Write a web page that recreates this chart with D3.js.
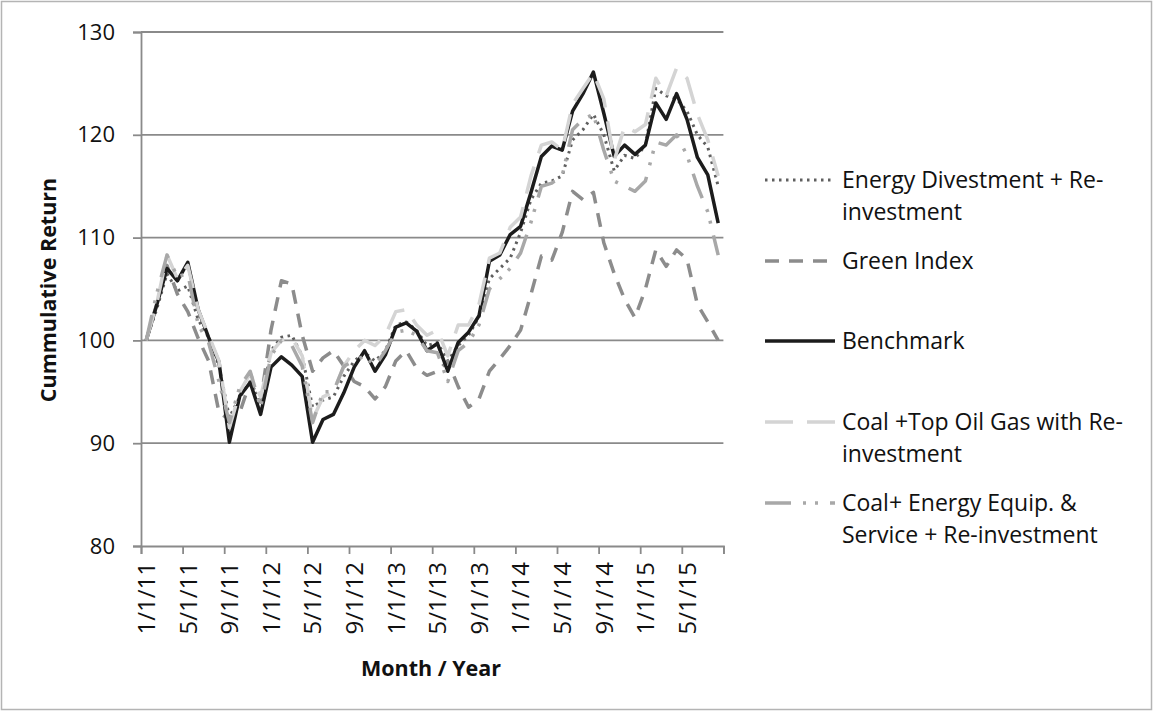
<!DOCTYPE html>
<html><head><meta charset="utf-8">
<script src="https://cdn.jsdelivr.net/npm/d3@7/dist/d3.min.js"></script>
<style>
html,body{margin:0;padding:0;background:#fff;}
svg{display:block;font-family:"Open Sans",sans-serif;}
</style></head><body>
<svg id="c" width="1153" height="711"></svg>
<script>
// ---- data (monthly, Jan 2011 .. Aug 2015) ----
const tickLabels = ["1/1/11","5/1/11","9/1/11","1/1/12","5/1/12","9/1/12","1/1/13","5/1/13","9/1/13","1/1/14","5/1/14","9/1/14","1/1/15","5/1/15"];
const energyDivestment = [100.0,103.0,106.5,104.8,105.3,102.0,100.3,97.5,92.5,94.5, 96.0,93.8,99.0,100.3,100.5,98.5,93.5,94.2,94.5,96.5, 98.0,98.8,98.0,99.0,101.5,101.8,101.0,99.5,99.8,98.0, 99.5,100.5,102.3,106.0,107.0,108.0,110.5,113.7,115.3,115.5, 116.0,119.5,120.5,122.0,120.0,116.5,118.0,117.7,119.0,124.5, 123.8,123.5,122.3,120.0,118.8,115.0];
const greenIndex = [100.0,103.5,107.3,104.5,102.8,100.2,98.0,93.0,92.3,93.0, 96.0,94.0,101.0,105.8,105.5,100.5,97.0,98.3,99.0,97.5, 96.0,95.5,94.3,95.5,98.0,99.0,97.3,96.6,97.0,98.0, 95.5,93.5,94.3,97.0,98.2,99.5,101.0,104.5,108.2,107.8, 110.5,114.5,113.7,114.4,109.5,106.5,104.0,102.2,105.0,108.8, 107.2,108.8,107.9,103.5,101.8,100.0];
const benchmark = [100.0,103.4,107.0,105.8,107.6,103.0,100.3,97.9,90.1,94.6, 95.9,92.8,97.4,98.4,97.6,96.5,90.1,92.3,92.8,94.9, 97.4,99.0,97.0,98.6,101.3,101.7,100.9,99.0,99.7,97.0, 99.8,100.8,102.4,107.7,108.3,110.3,111.1,114.4,117.9,118.9, 118.5,122.3,124.0,126.1,122.1,117.9,119.0,118.1,119.0,123.1, 121.5,124.0,121.5,117.8,116.1,111.4];
const coalTopOilGas = [100.0,103.5,108.3,106.0,107.3,103.0,100.5,98.0,91.5,95.0, 96.8,94.5,98.8,100.0,100.3,98.5,92.3,94.5,95.0,97.5, 99.0,100.0,99.5,100.5,102.8,103.0,101.5,100.5,101.0,98.5, 101.5,101.5,103.5,108.0,108.5,111.0,112.0,116.0,119.0,119.3, 118.5,123.0,124.5,126.0,123.5,117.5,120.8,120.3,121.0,125.5, 123.8,126.5,125.5,122.0,119.5,116.0];
const coalEnergyEquip = [100.0,104.5,108.3,106.2,106.5,101.5,99.8,96.0,92.0,95.5, 97.0,93.5,98.5,100.0,99.5,97.5,92.0,95.0,95.0,97.5, 98.0,98.5,97.5,99.0,100.8,101.0,100.5,99.0,98.8,96.0, 99.0,99.8,101.5,105.0,106.0,107.0,108.5,111.5,115.0,115.3, 116.0,120.5,121.5,122.0,118.5,115.5,115.0,114.5,115.5,119.3, 119.0,120.0,118.0,115.0,112.5,108.3];
const yTicks = [80,90,100,110,120,130];

const series = [
  {name:["Energy Divestment + Re-","investment"], values:energyDivestment, color:"#5f5f5f", width:3, dash:"2.5,4.5"},
  {name:["Green Index"], values:greenIndex, color:"#8c8c8c", width:3.5, dash:"14,10"},
  {name:["Benchmark"], values:benchmark, color:"#1c1c1c", width:3.5, dash:null},
  {name:["Coal +Top Oil Gas with Re-","investment"], values:coalTopOilGas, color:"#d4d4d4", width:3.5, dash:"28,14"},
  {name:["Coal+ Energy Equip. &","Service + Re-investment"], values:coalEnergyEquip, color:"#a8a8a8", width:3.5, dash:"26,12,3,9,3,12"}
];

const svg = d3.select("#c");
svg.append("rect").attr("x",1.5).attr("y",1.5).attr("width",1150).attr("height",708)
  .attr("fill","#fff").attr("stroke","#b4b4b4").attr("stroke-width",1.5);

const nMonths = 56;
const x = d3.scaleLinear().domain([0,nMonths]).range([141,723.4]);
const y = d3.scaleLinear().domain([80,130]).range([546,32]);
const gridColor = "#8a8a8a";

// gridlines
svg.append("g").selectAll("line").data(yTicks.filter(d=>d>80)).join("line")
  .attr("x1",x(0)).attr("x2",x(nMonths)).attr("y1",d=>y(d)).attr("y2",d=>y(d))
  .attr("stroke",gridColor).attr("stroke-width",1.8);

// y axis
const yAxis = svg.append("g").attr("transform",`translate(${x(0)},0)`)
  .call(d3.axisLeft(y).tickValues(yTicks).tickSize(8).tickPadding(18));
yAxis.select(".domain").attr("stroke",gridColor).attr("stroke-width",1.8);
yAxis.selectAll(".tick line").attr("stroke",gridColor).attr("stroke-width",1.8);
yAxis.selectAll(".tick text").attr("font-size",22).attr("font-family","Open Sans").attr("fill","#111");

// x axis
const tickVals = d3.range(0,nMonths+1,4);
const xAxis = svg.append("g").attr("transform",`translate(0,${y(80)})`)
  .call(d3.axisBottom(x).tickValues(tickVals).tickSize(8).tickFormat(d=>""));
xAxis.select(".domain").attr("stroke",gridColor).attr("stroke-width",1.8);
xAxis.selectAll(".tick line").attr("stroke",gridColor).attr("stroke-width",1.8);
svg.append("g").selectAll("text").data(tickLabels).join("text")
  .attr("transform",(d,i)=>`translate(${x(i*4)+14},562) rotate(-90)`)
  .attr("text-anchor","end").attr("font-size",24).attr("fill","#111").text(d=>d);

// axis titles
svg.append("text").attr("transform","translate(56,290) rotate(-90)")
  .attr("text-anchor","middle").attr("font-weight","bold").attr("font-size",21.5).attr("fill","#111")
  .text("Cummulative Return");
svg.append("text").attr("x",431).attr("y",676).attr("text-anchor","middle")
  .attr("font-weight","bold").attr("font-size",21.5).attr("fill","#111").text("Month / Year");

// lines
const line = d3.line().x((d,i)=>x(i+0.5)).y(d=>y(d)).curve(d3.curveLinear);
svg.append("g").selectAll("path").data(series).join("path")
  .attr("d",d=>line(d.values)).attr("fill","none")
  .attr("stroke",d=>d.color).attr("stroke-width",d=>d.width)
  .attr("stroke-dasharray",d=>d.dash).attr("stroke-linejoin","round");

// legend
const legY = [180,261,341,422,503];
const leg = svg.append("g").selectAll("g").data(series).join("g")
  .attr("transform",(d,i)=>`translate(0,${legY[i]})`);
leg.append("line").attr("x1",765).attr("x2",835).attr("y1",0).attr("y2",0)
  .attr("stroke",d=>d.color).attr("stroke-width",d=>d.width).attr("stroke-dasharray",d=>d.dash);
leg.each(function(d){
  const t = d3.select(this).append("text").attr("x",842).attr("y",8).attr("font-size",23).attr("fill","#111");
  d.name.forEach((s,k)=>t.append("tspan").attr("x",842).attr("dy",k===0?0:31.5).text(s));
});
</script>
</body></html>
